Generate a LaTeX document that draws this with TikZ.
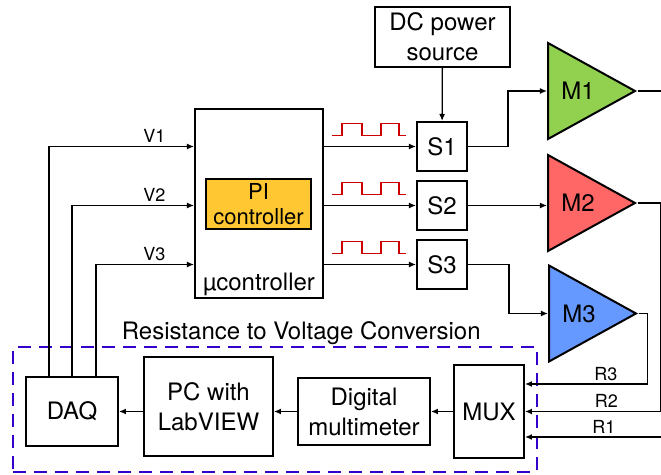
\documentclass[tikz,border=0pt]{standalone}
\usepackage{fontspec}
\setmainfont{TeX Gyre Heros}
\usetikzlibrary{arrows.meta,positioning,shapes.geometric}

\definecolor{piorange}{RGB}{255,200,50}
\definecolor{mgreen}{RGB}{146,208,80}
\definecolor{mred}{RGB}{255,102,102}
\definecolor{mblue}{RGB}{102,153,255}
\definecolor{convblue}{RGB}{51,0,204}
\definecolor{pwmred}{RGB}{204,0,0}

\begin{document}
\begin{tikzpicture}[
  x=0.5pt, y=-0.5pt,
  box/.style={draw, line width=1pt, align=center, inner sep=0pt, font=\fontsize{12}{15}\selectfont},
  sw/.style={box, minimum width=25pt, minimum height=24.5pt},
  amp/.style={draw, line width=1pt, isosceles triangle, isosceles triangle stretches, inner sep=0pt, minimum width=48pt, minimum height=43.5pt, anchor=west},
  convbox/.style={draw=convblue, line width=1pt, dash pattern=on 6.5pt off 4pt, inner sep=0pt},
  wire/.style={line width=0.65pt},
  arr/.style={-{Latex[length=3.5pt,width=3pt]}, line width=0.65pt},
  pwm/.style={draw=pwmred, line width=0.65pt},
  lbl/.style={font=\fontsize{9}{11}\selectfont, inner sep=1.5pt},
  big/.style={font=\fontsize{12}{15}\selectfont}
]
\useasboundingbox (0,0) rectangle (661,475);

% supply and switches
\node[box, minimum width=67.5pt, minimum height=30pt] (dc) at (442.5,37) {DC power\\source};
\node[sw] (s1) at (442,146.5) {S1};
\node[sw, below=4pt of s1] (s2) {S2};
\node[sw, below=4pt of s2] (s3) {S3};

% controller
\node[box, minimum width=64pt, minimum height=94.5pt,
  label={[big, anchor=base, yshift=4pt]south:µcontroller}] (mu) at (259,203.5) {};
\node[box, fill=piorange, minimum width=52.5pt, minimum height=25pt,
  font=\fontsize{11}{12.5}\selectfont] (pi) at (258.5,204) {PI\\controller};

% motors
\node[amp, fill=mgreen, label={[big, anchor=center, xshift=15.5pt]west:M1}] (m1) at (547,91) {};
\node[amp, fill=mred, label={[big, anchor=center, xshift=15.5pt]west:M2}] (m2) at (547,203) {};
\node[amp, fill=mblue, label={[big, anchor=center, xshift=15.5pt]west:M3}] (m3) at (548,313.5) {};

% resistance to voltage conversion
\node[convbox, minimum width=261.75pt, minimum height=62.5pt,
  label={[big, anchor=base, yshift=3pt, xshift=13pt]north:Resistance to Voltage Conversion}] (conv) at (275.25,409.5) {};
\node[box, minimum width=46pt, minimum height=34.5pt] (daq) at (72,411.5) {DAQ};
\node[box, minimum width=64.5pt, minimum height=49.5pt, right=12pt of daq, yshift=2.5pt] (pc) {PC with\\LabVIEW};
\node[box, minimum width=66pt, minimum height=33.5pt, right=11.5pt of pc, yshift=-2.5pt] (dmm) {Digital\\multimeter};
\node[box, minimum width=35pt, minimum height=46.5pt, right=11pt of dmm] (mux) {MUX};

\draw[arr] (dc) -- (s1);
\foreach \i/\dx in {1/-11.5pt,2/0pt,3/12pt}{
  \draw[arr] (mu.east |- s\i) -- (s\i);
  \draw[pwm] ([shift={(-84,-11)}]s\i.west) -- ++(10,0) -- ++(0,-12) -- ++(20,0) -- ++(0,12)
    -- ++(19,0) -- ++(0,-12) -- ++(18,0) -- ++(0,12) -- ++(7,0);
  \draw[arr] ([xshift=\dx]daq.north) |- (mu.west |- s\i)
    node[lbl, pos=1, anchor=south east, xshift=-12.5pt] {V\i};
}

\draw[arr] (s1.east) -- ++(40,0) |- (m1.west);
\draw[arr] (s2) -- (s2 -| m2.west);
\draw[arr] (s3.east) -- ++(41,0) |- (m3.west);

\coordinate (m1out) at (661,91);
\draw[wire] (m1.apex) -- (m1out);
\draw[arr] (m2.apex) -- ++(23,0) |- (mux.east) node[lbl, pos=0.70, above] {R2};
\draw[arr] (m3.apex) -- ++(9,0) |- ([yshift=13.75pt]mux.east) node[lbl, pos=0.67, above] {R3};
\coordinate (r1in) at (661,437);
\draw[arr] (r1in) -- (r1in -| mux.east) node[lbl, pos=0.42, above] {R1};

\draw[arr] (mux) -- (dmm);
\draw[arr] (dmm.west) -- (dmm.west -| pc.east);
\draw[arr] (pc.west |- daq) -- (daq);

\end{tikzpicture}
\end{document}
